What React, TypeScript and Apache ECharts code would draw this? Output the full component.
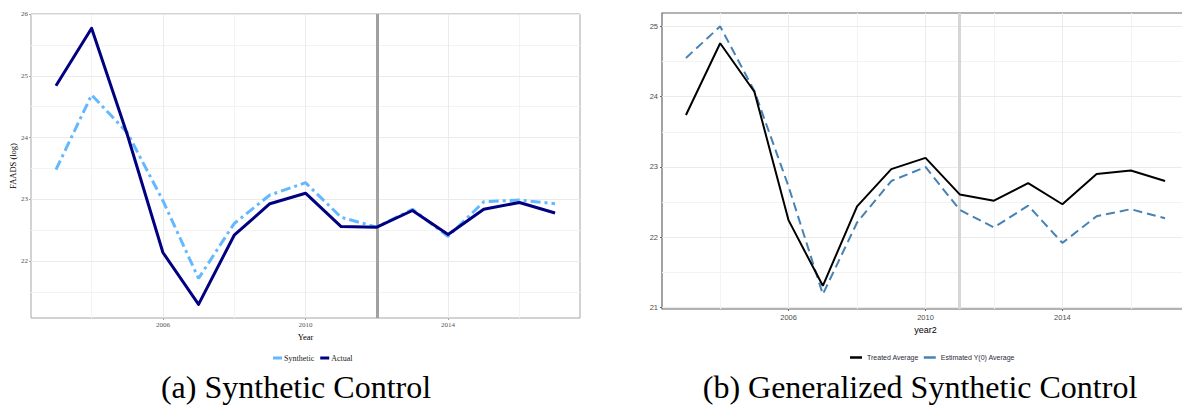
import React, { useEffect, useRef } from "react";
import * as echarts from "echarts";

const years = [2003, 2004, 2005, 2006, 2007, 2008, 2009, 2010, 2011, 2012, 2013, 2014, 2015, 2016, 2017];
const synthetic = [23.48, 24.69, 24.08, 22.98, 21.72, 22.61, 23.07, 23.27, 22.71, 22.55, 22.84, 22.4, 22.96, 22.99, 22.93];
const actual = [24.84, 25.77, 24.05, 22.14, 21.3, 22.42, 22.93, 23.1, 22.56, 22.55, 22.82, 22.43, 22.84, 22.95, 22.78];
const treated = [23.74, 24.76, 24.07, 22.24, 21.31, 22.44, 22.97, 23.13, 22.61, 22.52, 22.77, 22.47, 22.9, 22.95, 22.8];
const estimated = [24.55, 25.0, 24.08, 22.72, 21.19, 22.21, 22.8, 23.0, 22.39, 22.14, 22.45, 21.92, 22.3, 22.4, 22.27];

const xTicks = [2006, 2010, 2014];
const xMinor = [2004, 2008, 2012, 2016];
const leftYTicks = [22, 23, 24, 25, 26];
const leftYMinor = [21.5, 22.5, 23.5, 24.5, 25.5];
const rightYTicks = [21, 22, 23, 24, 25];
const rightYMinor = [21.5, 22.5, 23.5, 24.5];
const leftTreatYear = 2012;
const rightTreatYear = 2011;

const zip = (xs: number[], ys: number[]) => xs.map((x, i) => [x, ys[i]]);

const SERIF = '"Liberation Serif", "Times New Roman", serif';
const SANS = '"Liberation Sans", Arial, sans-serif';

function gridLines(major: { x: number[]; y: number[] }, minor: { x: number[]; y: number[] }) {
  const data: any[] = [];
  minor.x.forEach((v) => data.push({ xAxis: v, lineStyle: { color: "#F3F3F3", width: 1 } }));
  minor.y.forEach((v) => data.push({ yAxis: v, lineStyle: { color: "#F3F3F3", width: 1 } }));
  major.x.forEach((v) => data.push({ xAxis: v, lineStyle: { color: "#EBEBEB", width: 1 } }));
  major.y.forEach((v) => data.push({ yAxis: v, lineStyle: { color: "#EBEBEB", width: 1 } }));
  return {
    silent: true,
    symbol: "none",
    label: { show: false },
    emphasis: { disabled: true },
    lineStyle: { type: "solid" },
    data,
  };
}

export default function App() {
  const ref = useRef<HTMLDivElement>(null);
  useEffect(() => {
    if (!ref.current) return;
    const chart = echarts.init(ref.current, undefined, { renderer: "svg" });
    const fmt = (v: number) => String(v);
    const option: any = {
      animation: false,
      backgroundColor: "#fff",
      grid: [
        { left: 31, top: 14, right: 620, bottom: 95, show: true, borderColor: "#A6A6A6", borderWidth: 1, backgroundColor: "transparent" },
        { left: 662, top: 13, right: 11, bottom: 104, show: true, borderColor: "#666666", borderWidth: 1.2, backgroundColor: "transparent" },
      ],
      xAxis: [
        {
          type: "value", gridIndex: 0, min: 2002.3, max: 2017.7,
          name: "Year", nameLocation: "middle", nameGap: 10,
          nameTextStyle: { fontFamily: SERIF, fontSize: 8.5, color: "#000" },
          axisLine: { show: false },
          axisTick: { show: true, customValues: xTicks, length: 2, lineStyle: { color: "#A6A6A6" } },
          axisLabel: { customValues: xTicks, formatter: fmt, fontFamily: SERIF, fontSize: 7, color: "#555", margin: 3 },
          splitLine: { show: false },
        },
        {
          type: "value", gridIndex: 1, min: 2002.3, max: 2017.7,
          name: "year2", nameLocation: "middle", nameGap: 14,
          nameTextStyle: { fontFamily: SANS, fontSize: 9, color: "#000" },
          axisLine: { show: false },
          axisTick: { show: true, customValues: xTicks, length: 2, lineStyle: { color: "#666" } },
          axisLabel: { customValues: xTicks, formatter: fmt, fontFamily: SANS, fontSize: 7.5, color: "#4D4D4D", margin: 4 },
          splitLine: { show: false },
        },
      ],
      yAxis: [
        {
          type: "value", gridIndex: 0, min: 21.08, max: 26.0,
          name: "FAADS (log)", nameLocation: "middle", nameGap: 12, nameRotate: 90,
          nameTextStyle: { fontFamily: SERIF, fontSize: 8.5, color: "#000" },
          axisLine: { show: false },
          axisTick: { show: true, customValues: leftYTicks, length: 2, lineStyle: { color: "#A6A6A6" } },
          axisLabel: { customValues: leftYTicks, formatter: fmt, fontFamily: SERIF, fontSize: 7, color: "#555", margin: 3 },
          splitLine: { show: false },
        },
        {
          type: "value", gridIndex: 1, min: 20.98, max: 25.19,
          axisLine: { show: false },
          axisTick: { show: true, customValues: rightYTicks, length: 2, lineStyle: { color: "#666" } },
          axisLabel: { customValues: rightYTicks, formatter: fmt, fontFamily: SANS, fontSize: 7.5, color: "#4D4D4D", margin: 4 },
          splitLine: { show: false },
        },
      ],
      legend: [
        {
          data: ["Synthetic", "Actual"], left: 268, top: 349, icon: "rect", itemWidth: 9, itemHeight: 3, itemGap: 6,
          textStyle: { fontFamily: SERIF, fontSize: 8, color: "#222", padding: [0, 0, 0, -3] },
          itemStyle: { borderWidth: 0 },
        },
        {
          data: ["Treated Average", "Estimated Y(0) Average"], left: 845, top: 349, icon: "rect", itemWidth: 12, itemHeight: 2.5, itemGap: 5,
          textStyle: { fontFamily: SANS, fontSize: 7, color: "#2a2a3a" },
          itemStyle: { borderWidth: 0 },
        },
      ],
      graphic: [
        { type: "text", x: 296, y: 387, style: { text: "(a) Synthetic Control", font: `32px ${SERIF}`, fill: "#000", textAlign: "center", textVerticalAlign: "middle" } },
        { type: "text", x: 920, y: 387, style: { text: "(b) Generalized Synthetic Control", font: `32px ${SERIF}`, fill: "#000", textAlign: "center", textVerticalAlign: "middle" } },
      ],
      series: [
        {
          name: "gridL", type: "line", xAxisIndex: 0, yAxisIndex: 0, data: [], z: 0,
          markLine: { ...gridLines({ x: xTicks, y: leftYTicks }, { x: xMinor, y: leftYMinor }), z: 0 },
        },
        {
          name: "gridR", type: "line", xAxisIndex: 1, yAxisIndex: 1, data: [], z: 0,
          markLine: { ...gridLines({ x: xTicks, y: rightYTicks }, { x: xMinor, y: rightYMinor }), z: 0 },
        },
        {
          name: "treatL", type: "line", xAxisIndex: 0, yAxisIndex: 0, data: [], z: 1,
          markLine: { silent: true, symbol: "none", label: { show: false }, z: 1, lineStyle: { type: "solid", color: "#A0A0A0", width: 3 }, data: [{ xAxis: leftTreatYear }] },
        },
        {
          name: "treatR", type: "line", xAxisIndex: 1, yAxisIndex: 1, data: [], z: 1,
          markLine: { silent: true, symbol: "none", label: { show: false }, z: 1, lineStyle: { type: "solid", color: "#D6D6D6", width: 3 }, data: [{ xAxis: rightTreatYear }] },
        },
        {
          name: "Synthetic", type: "line", xAxisIndex: 0, yAxisIndex: 0, data: zip(years, synthetic),
          showSymbol: false, color: "#63B8FF", z: 3,
          lineStyle: { color: "#63B8FF", width: 3, type: [10, 4, 3, 4] },
        },
        {
          name: "Actual", type: "line", xAxisIndex: 0, yAxisIndex: 0, data: zip(years, actual),
          showSymbol: false, color: "#000080", z: 4,
          lineStyle: { color: "#000080", width: 3, join: "round" },
        },
        {
          name: "Treated Average", type: "line", xAxisIndex: 1, yAxisIndex: 1, data: zip(years, treated),
          showSymbol: false, color: "#000000", z: 4,
          lineStyle: { color: "#000000", width: 2 },
        },
        {
          name: "Estimated Y(0) Average", type: "line", xAxisIndex: 1, yAxisIndex: 1, data: zip(years, estimated),
          showSymbol: false, color: "#4682B4", z: 3,
          lineStyle: { color: "#4682B4", width: 2, type: [9, 5] },
        },
      ],
    };
    chart.setOption(option);
    return () => chart.dispose();
  }, []);
  return (
    <div style={{ position: "absolute", left: 0, top: 0, width: 1182, height: 413, overflow: "hidden", background: "#fff" }}>
      <div ref={ref} style={{ width: 1200, height: 413 }} />
    </div>
  );
}
